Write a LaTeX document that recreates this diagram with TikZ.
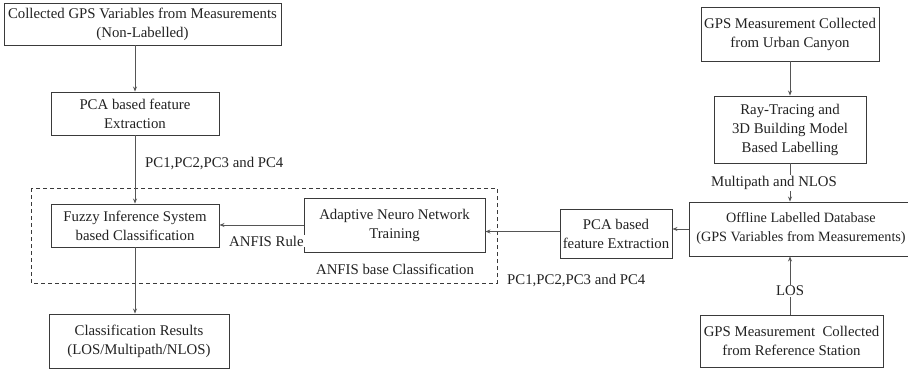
\documentclass[tikz,border=0pt]{standalone}
\usepackage{fontspec}
\setmainfont{Liberation Serif}
\usetikzlibrary{arrows.meta,positioning,calc}
\definecolor{paper}{HTML}{FFFFFF}
\definecolor{ink}{HTML}{222222}
\definecolor{frame}{HTML}{3A3A3A}
\definecolor{wire}{HTML}{555555}
\newcommand{\LeftX}{135}
\newcommand{\RightX}{790}

\begin{document}
\begin{tikzpicture}[
    x=1pt, y=1pt,
    font=\fontsize{14.8}{19}\selectfont, ink,
    edge/.style={-{Stealth[length=5pt,width=4pt]}, line width=0.9pt, draw=wire},
    block/.style={draw=frame, line width=0.9pt, fill=paper, align=center, inner sep=0pt},
    tag/.style={inner sep=1pt, fill=paper},
    group/.style={draw=frame, line width=0.8pt, dash pattern=on 4pt off 3pt},
  ]
\useasboundingbox (0,0) rectangle (908,-370);
\clip (0,0) rectangle (908,-370);

% --- Left column: unlabelled data through to the result ---------------------
\node[block, minimum width=277, minimum height=42] (gpsvars) at (142.5,-24)
  {Collected GPS Variables from Measurements\\(Non-Labelled)};
\node[block, minimum width=168, minimum height=43] (pcaleft) at (\LeftX,-113.5)
  {PCA based feature\\Extraction};
\node[block, minimum width=168, minimum height=43] (fis) at (\LeftX,-225.5)
  {Fuzzy Inference System\\based Classification};
\node[block, minimum width=180, minimum height=54] (results) at (139,-341)
  {Classification Results\\(LOS/Multipath/NLOS)};

% --- Training: the ANFIS group ----------------------------------------------
\draw[group] (31,-188) rectangle (497,-283);
\node[block, minimum width=181, minimum height=54] (anfis) at (394.5,-225)
  {Adaptive Neuro Network\\Training};
\node[block, minimum width=112, minimum height=49] (pcaright) at (616,-233.5)
  {PCA based\\feature Extraction};

% --- Right column: labelling the training data ------------------------------
\node[block, minimum width=178, minimum height=54] (urban) at (\RightX,-34)
  {GPS Measurement Collected\\from Urban Canyon};
\node[block, minimum width=152, minimum height=67] (raytrace) at (\RightX,-129.5)
  {Ray-Tracing and\\3D Building Model\\Based Labelling};
\node[block, minimum width=224, minimum height=54, font=\fontsize{14.2}{19}\selectfont] (offline) at (801,-229)
  {Offline Labelled Database\\(GPS Variables from Measurements)};
\node[block, minimum width=183, minimum height=52] (refstation) at (791.5,-341)
  {GPS Measurement\ \ Collected\\from Reference Station};

% --- Connectors ---------------------------------------------------------------
\draw[edge] (pcaleft.north |- gpsvars.south) -- (pcaleft.north);
\draw[edge] (pcaleft.south) -- (fis.north);
\draw[edge] (fis.south) -- (fis.south |- results.north);
\draw[edge] (anfis.west) -- (fis.east |- anfis.west);
\draw[edge] ($(pcaright.west)+(0,2)$) -- ($(pcaright.west -| anfis.east)+(0,2)$);
\draw[edge] (offline.west) -- (offline.west -| pcaright.east);
\draw[edge] (urban.south) -- (raytrace.north);
\draw[edge] (raytrace.south) -- (raytrace.south |- offline.north);
\draw[edge] (raytrace.south |- refstation.north) -- (raytrace.south |- offline.south);

% --- Labels -------------------------------------------------------------------
\node[tag, anchor=west] (pcleft) at (144,-163) {PC1,PC2,PC3 and PC4};
\node[tag, anchor=west] (rule) at (228,-241) {ANFIS Rule};
\node[tag] (anfisbase) at (395,-269) {ANFIS base Classification};
\node[tag, anchor=west] (pcright) at (506,-280) {PC1,PC2,PC3 and PC4};
\node[tag] (mpnlos) at (774,-183) {Multipath and NLOS};
\node[tag] (los) at (\RightX,-291) {LOS};

\end{tikzpicture}
\end{document}
